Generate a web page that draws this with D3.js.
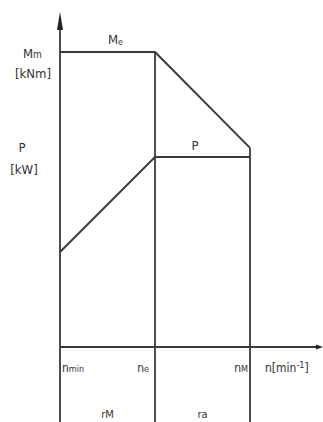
<!DOCTYPE html>
<html><head><meta charset="utf-8">
<script src="https://cdn.jsdelivr.net/npm/d3@7/dist/d3.min.js"></script>
<style>
html,body{margin:0;padding:0;background:#fff;}
svg{display:block;}
text{font-family:"DejaVu Sans Condensed","DejaVu Sans",sans-serif;fill:#333;}
</style></head>
<body><svg id="c" width="323" height="422"></svg>
<script>
// speeds (relative positions of n_min, n_e, n_M)
const speedLabels = ["nmin", "ne", "nM"];
const speeds = [0, 1, 2];
// torque curve Me (relative units)
const torque = [100, 100, 67.5];
// power curve P (relative units)
const power = [32.2, 64.4, 64.4];
// region labels under axis
const regionLabels = ["rM", "ra"];

const svg = d3.select("#c");
const W = 323, H = 422;
const x = d3.scaleLinear().domain([0, 2]).range([60, 250]);
const y = d3.scaleLinear().domain([0, 100]).range([347, 52]);
const stroke = "#3a3a3a";

// y axis
svg.append("line").attr("x1", x(0)).attr("x2", x(0)).attr("y1", 28).attr("y2", H)
  .attr("stroke", stroke).attr("stroke-width", 1.8);
svg.append("path").attr("d", `M${x(0)},12 L${x(0)-3},30 L${x(0)+3},30 Z`).attr("fill", "#222");
// x axis
svg.append("line").attr("x1", x(0)).attr("x2", 318).attr("y1", y(0)).attr("y2", y(0))
  .attr("stroke", stroke).attr("stroke-width", 1.8);
svg.append("path").attr("d", `M323,${y(0)} L316,${y(0)-2.5} L316,${y(0)+2.5} Z`).attr("fill", "#222");

// verticals at ne and nM
svg.append("line").attr("x1", x(speeds[1])).attr("x2", x(speeds[1]))
  .attr("y1", y(torque[1])).attr("y2", H).attr("stroke", stroke).attr("stroke-width", 1.8);
svg.append("line").attr("x1", x(speeds[2])).attr("x2", x(speeds[2]))
  .attr("y1", y(torque[2])).attr("y2", H).attr("stroke", stroke).attr("stroke-width", 1.8);

const line = d3.line().x(d => x(d[0])).y(d => y(d[1]));
svg.append("path").datum(speeds.map((s, i) => [s, torque[i]])).attr("d", line)
  .attr("fill", "none").attr("stroke", stroke).attr("stroke-width", 2);
svg.append("path").datum(speeds.map((s, i) => [s, power[i]])).attr("d", line)
  .attr("fill", "none").attr("stroke", stroke).attr("stroke-width", 2);

// labels
const fs = 12;
function t(txt, xx, yy, anchor, size) {
  return svg.append("text").attr("x", xx).attr("y", yy).attr("text-anchor", anchor || "start")
    .attr("font-size", size || fs).text(txt);
}
// Mm [kNm]
const mm = t("M", 23, 58, "start", 13);
mm.append("tspan").attr("font-size", 10).text("m");
t("[kNm]", 33, 78, "middle", 13);
t("P", 22, 152, "middle", 13);
t("[kW]", 24, 174, "middle", 13);
const me = t("M", 108, 44, "start", 13);
me.append("tspan").attr("font-size", 9).attr("dy", 1).text("e");
t("P", 195, 150, "middle", 13);

// x labels
const nl = [
  {x: x(speeds[0]) + 2, anchor: "start", main: "n", sub: "min"},
  {x: x(speeds[1]) - 6, anchor: "end", main: "n", sub: "e"},
  {x: x(speeds[2]) - 2, anchor: "end", main: "n", sub: "M"}
];
nl.forEach(d => {
  const tt = t(d.main, d.x, 372, d.anchor, 12);
  tt.append("tspan").attr("font-size", 9).text(d.sub);
});
const nu = t("n[min", 265, 372, "start", 12);
nu.append("tspan").attr("font-size", 9).attr("dy", -4).text("-1");
nu.append("tspan").attr("dy", 4).text("]");

// region labels
t(regionLabels[0], (x(speeds[0]) + x(speeds[1])) / 2, 418, "middle", 11);
t(regionLabels[1], (x(speeds[1]) + x(speeds[2])) / 2, 418, "middle", 11);
</script></body></html>
